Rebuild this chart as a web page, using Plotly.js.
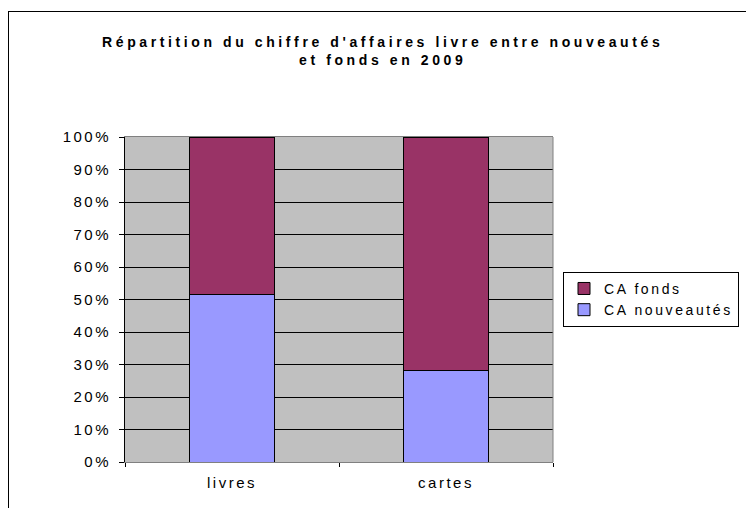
<!DOCTYPE html>
<html>
<head>
<meta charset="utf-8">
<script src="https://cdn.plot.ly/plotly-3.0.1.min.js"></script>
<style>
  html, body { margin: 0; padding: 0; background: #fff; }
  #wrap { position: relative; width: 746px; height: 508px; overflow: hidden; }
  #chart { position: absolute; left: 0; top: 0; width: 746px; height: 508px; }
  #frame { position: absolute; left: 8px; top: 11px; width: 900px; height: 700px;
           border-left: 1px solid #000; border-top: 1px solid #000; pointer-events: none; }
  .xtick text, .ytick text { letter-spacing: 2.5px; }
  .legendtext { letter-spacing: 2.6px; }
  .gtitle { letter-spacing: 3.6px; }
</style>
</head>
<body>
<div id="wrap">
  <div id="chart"></div>
  <div id="frame"></div>
</div>
<script>
const categories = ['livres', 'cartes'];
const caNouveautes = [0.516, 0.282];
const caFonds = [0.484, 0.718];
const seriesNames = ['CA nouveautés', 'CA fonds'];
const titleText = "Répartition du chiffre d'affaires livre entre nouveautés<br>et fonds en 2009";

const font = 'Liberation Sans, Arial, sans-serif';

const traces = [
  {
    type: 'bar', name: seriesNames[0], x: categories, y: caNouveautes,
    width: 0.394,
    marker: { color: '#9999ff', line: { color: '#000', width: 1 } },
    hoverinfo: 'none'
  },
  {
    type: 'bar', name: seriesNames[1], x: categories, y: caFonds,
    width: 0.394,
    marker: { color: '#993366', line: { color: '#000', width: 1 } },
    hoverinfo: 'none'
  }
];

const layout = {
  width: 746, height: 508,
  margin: { l: 125, r: 193, t: 137, b: 46, pad: 0, autoexpand: false },
  paper_bgcolor: '#fff',
  plot_bgcolor: '#c0c0c0',
  barmode: 'stack',
  font: { family: font, size: 15, color: '#000' },
  title: {
    text: titleText,
    font: { family: font, size: 14, color: '#000', weight: 'bold' },
    xref: 'container', x: 0.513, xanchor: 'center',
    yref: 'container', y: 1 - 47 / 508, yanchor: 'top'
  },
  xaxis: {
    type: 'category',
    tickson: 'boundaries',
    ticks: 'outside', ticklen: 4, tickcolor: '#000',
    showgrid: false,
    showline: true, linecolor: '#808080', linewidth: 1, mirror: true,
    tickfont: { family: font, size: 15, color: '#000' },
    ticklabelstandoff: 7,
    zeroline: false
  },
  yaxis: {
    range: [0, 1],
    tickvals: [0, 0.1, 0.2, 0.3, 0.4, 0.5, 0.6, 0.7, 0.8, 0.9, 1],
    tickformat: '.0%',
    ticks: 'outside', ticklen: 5, tickcolor: '#000',
    showgrid: true, gridcolor: '#000', gridwidth: 1,
    showline: true, linecolor: '#000', linewidth: 1,
    zeroline: false,
    tickfont: { family: font, size: 15, color: '#000' },
    ticklabelstandoff: 5
  },
  showlegend: true,
  legend: {
    traceorder: 'reversed',
    x: 1.0234, xanchor: 'left',
    y: 0.585, yanchor: 'top',
    bgcolor: '#fff', bordercolor: '#000', borderwidth: 1,
    font: { family: font, size: 14, color: '#000' },
    itemwidth: 30
  },
  shapes: [
    { type: 'line', xref: 'paper', yref: 'paper', x0: 1, x1: 1, y0: 0, y1: 1,
      line: { color: '#808080', width: 1 } }
  ]
};

Plotly.newPlot('chart', traces, layout, { staticPlot: true, displayModeBar: false });
</script>
</body>
</html>
